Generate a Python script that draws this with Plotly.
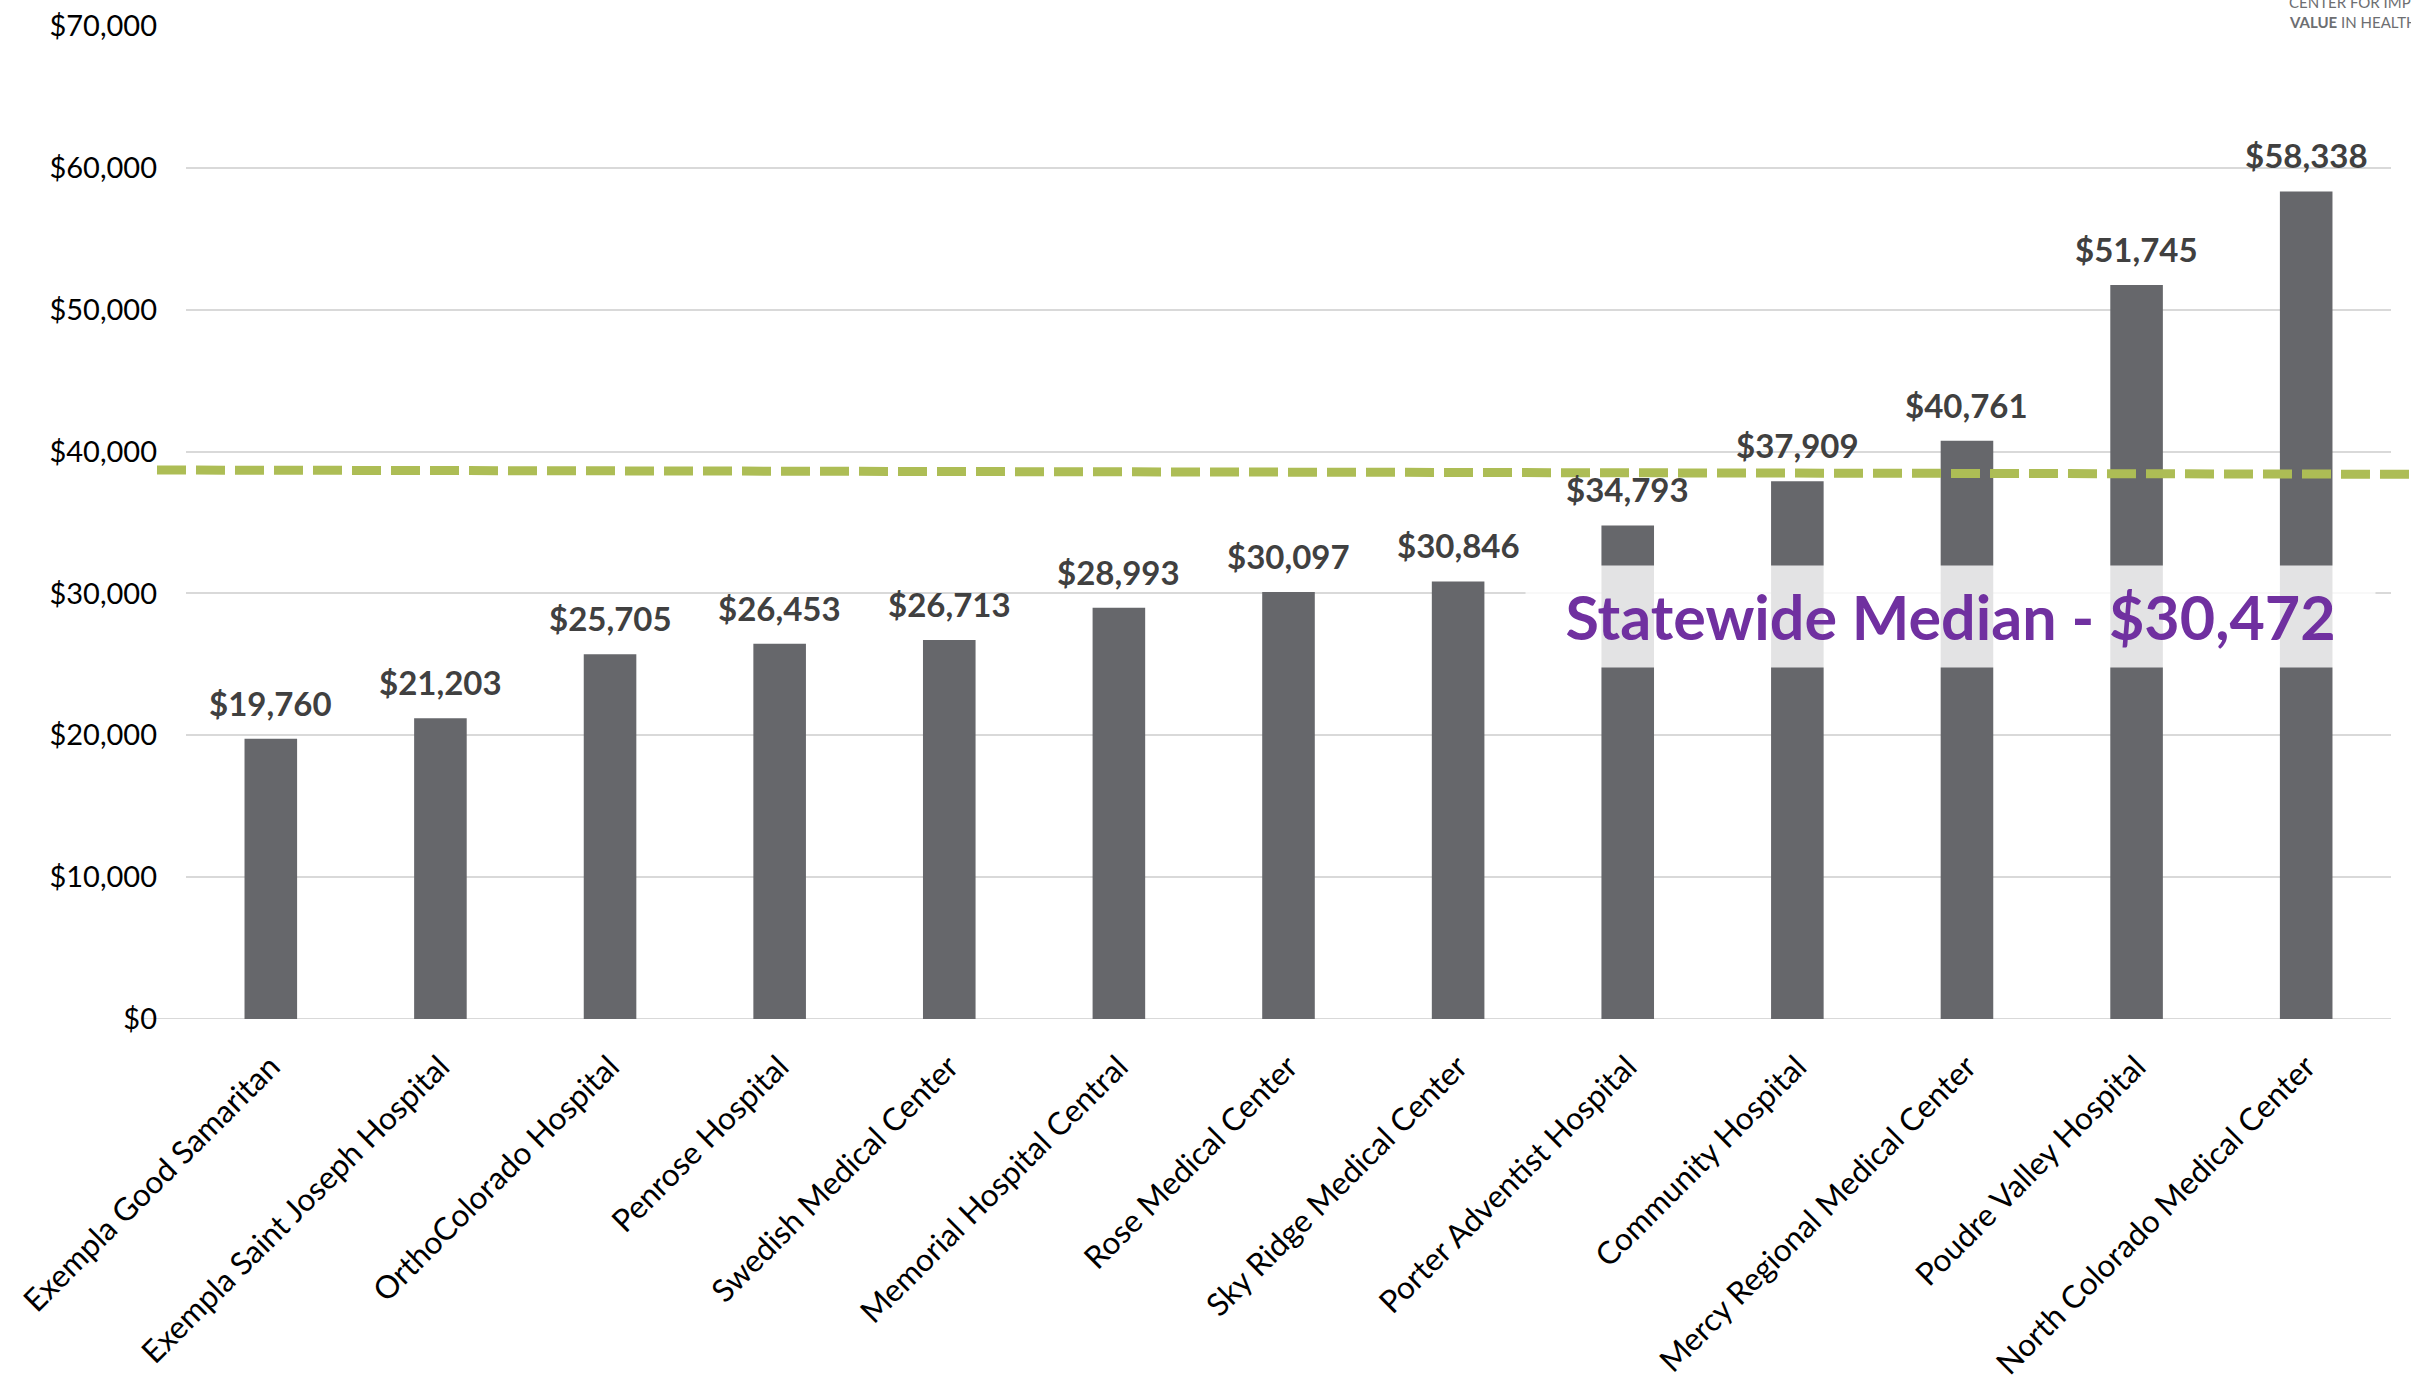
import plotly.graph_objects as go

hospitals = [
    "Exempla Good Samaritan", "Exempla Saint Joseph Hospital", "OrthoColorado Hospital",
    "Penrose Hospital", "Swedish Medical Center", "Memorial Hospital Central",
    "Rose Medical Center", "Sky Ridge Medical Center", "Porter Adventist Hospital",
    "Community Hospital", "Mercy Regional Medical Center", "Poudre Valley Hospital",
    "North Colorado Medical Center",
]
costs = [19760, 21203, 25705, 26453, 26713, 28993, 30097, 30846, 34793, 37909, 40761, 51745, 58338]
median_label = "Statewide Median - $30,472"
dashed_line_level = [38700, 38400]  # as drawn (left, right)
y_ticks = [0, 10000, 20000, 30000, 40000, 50000, 60000, 70000]
y_tick_labels = [f"${v:,}" for v in y_ticks]

# page geometry (body margin removed via post_script)
W, H = 2411, 1379
PLOT_L, PLOT_R, PLOT_T, PLOT_B = 186, 2391, 26, 1019
L, T, R, B = PLOT_L, PLOT_T, W - PLOT_R, H - PLOT_B
pw, ph = PLOT_R - PLOT_L, PLOT_B - PLOT_T


def px(xp):  # page x -> paper
    return (xp - PLOT_L) / pw


def py(yp):  # page y -> paper
    return (PLOT_B - yp) / ph


fig = go.Figure()
fig.add_trace(go.Bar(
    x=hospitals, y=costs, marker=dict(color="#66676b", line=dict(width=0)),
    hoverinfo="x+y",
))

annotations = []
for h, c in zip(hospitals, costs):
    annotations.append(dict(
        x=h, y=c, xref="x", yref="y", text=f"${c:,}", showarrow=False,
        yanchor="middle", yshift=36,
        font=dict(family="Lato", size=33, color="#404040", weight="bold"),
    ))

# statewide median callout with translucent white box
annotations.append(dict(
    x=px(1950), y=py(616), xref="paper", yref="paper",
    text=median_label, showarrow=False, xanchor="center", yanchor="middle",
    width=845, height=97, bgcolor="rgba(255,255,255,0.82)", borderpad=2,
    font=dict(family="Lato", size=61, color="#7030a0", weight="bold"),
))

# logo text (top-right, cut off by page edge as in the original)
annotations.append(dict(
    x=px(2287), y=py(2), xref="paper", yref="paper",
    text="CENTER FOR IMPROVING", showarrow=False, xanchor="left", yanchor="middle",
    font=dict(family="Lato", size=15, color="#6d6e71"),
))
annotations.append(dict(
    x=px(2287), y=py(22), xref="paper", yref="paper",
    text="<b>VALUE</b> IN HEALTHCARE", showarrow=False, xanchor="left", yanchor="middle",
    font=dict(family="Lato", size=15, color="#6d6e71"),
))

shapes = [
    # extended baseline
    dict(type="line", xref="paper", yref="y", x0=px(141), x1=1, y0=0, y1=0,
         line=dict(color="#d9d9d9", width=2), layer="below"),
    # white patch behind logo
    dict(type="rect", xref="paper", yref="paper", x0=px(2280), x1=px(W + 10),
         y0=py(40), y1=py(-5), fillcolor="white", line=dict(width=0), layer="above"),
    # green dashed line
    dict(type="line", xref="paper", yref="y", x0=px(157), x1=px(W + 5),
         y0=dashed_line_level[0], y1=dashed_line_level[1],
         line=dict(color="#adbd55", width=9, dash="29px,10px"), layer="above"),
]

fig.update_layout(
    width=W, height=H,
    margin=dict(l=L, r=R, t=T, b=B, autoexpand=False),
    paper_bgcolor="white", plot_bgcolor="white",
    showlegend=False, bargap=0.69,
    font=dict(family="Lato", color="#000000"),
    xaxis=dict(
        type="category", range=[-0.5, len(hospitals) - 0.5],
        tickangle=-45, tickfont=dict(family="Lato", size=31.5, color="#000000"),
        showgrid=False, showline=False, zeroline=False, ticks="",
        ticklabelstandoff=22,
    ),
    yaxis=dict(
        range=[0, 70000], tickvals=y_ticks, ticktext=y_tick_labels,
        tickfont=dict(family="Lato", size=29, color="#000000"),
        showgrid=True, gridcolor="#d9d9d9", gridwidth=2,
        zeroline=False, showline=False, ticks="", ticklabelstandoff=28,
        ticklabeloverflow="allow",
    ),
    annotations=annotations, shapes=shapes,
)

fig.write_html(
    "out.html",
    config={"displayModeBar": False},
    post_script="document.body.style.margin='0';document.body.style.overflow='hidden';",
)
